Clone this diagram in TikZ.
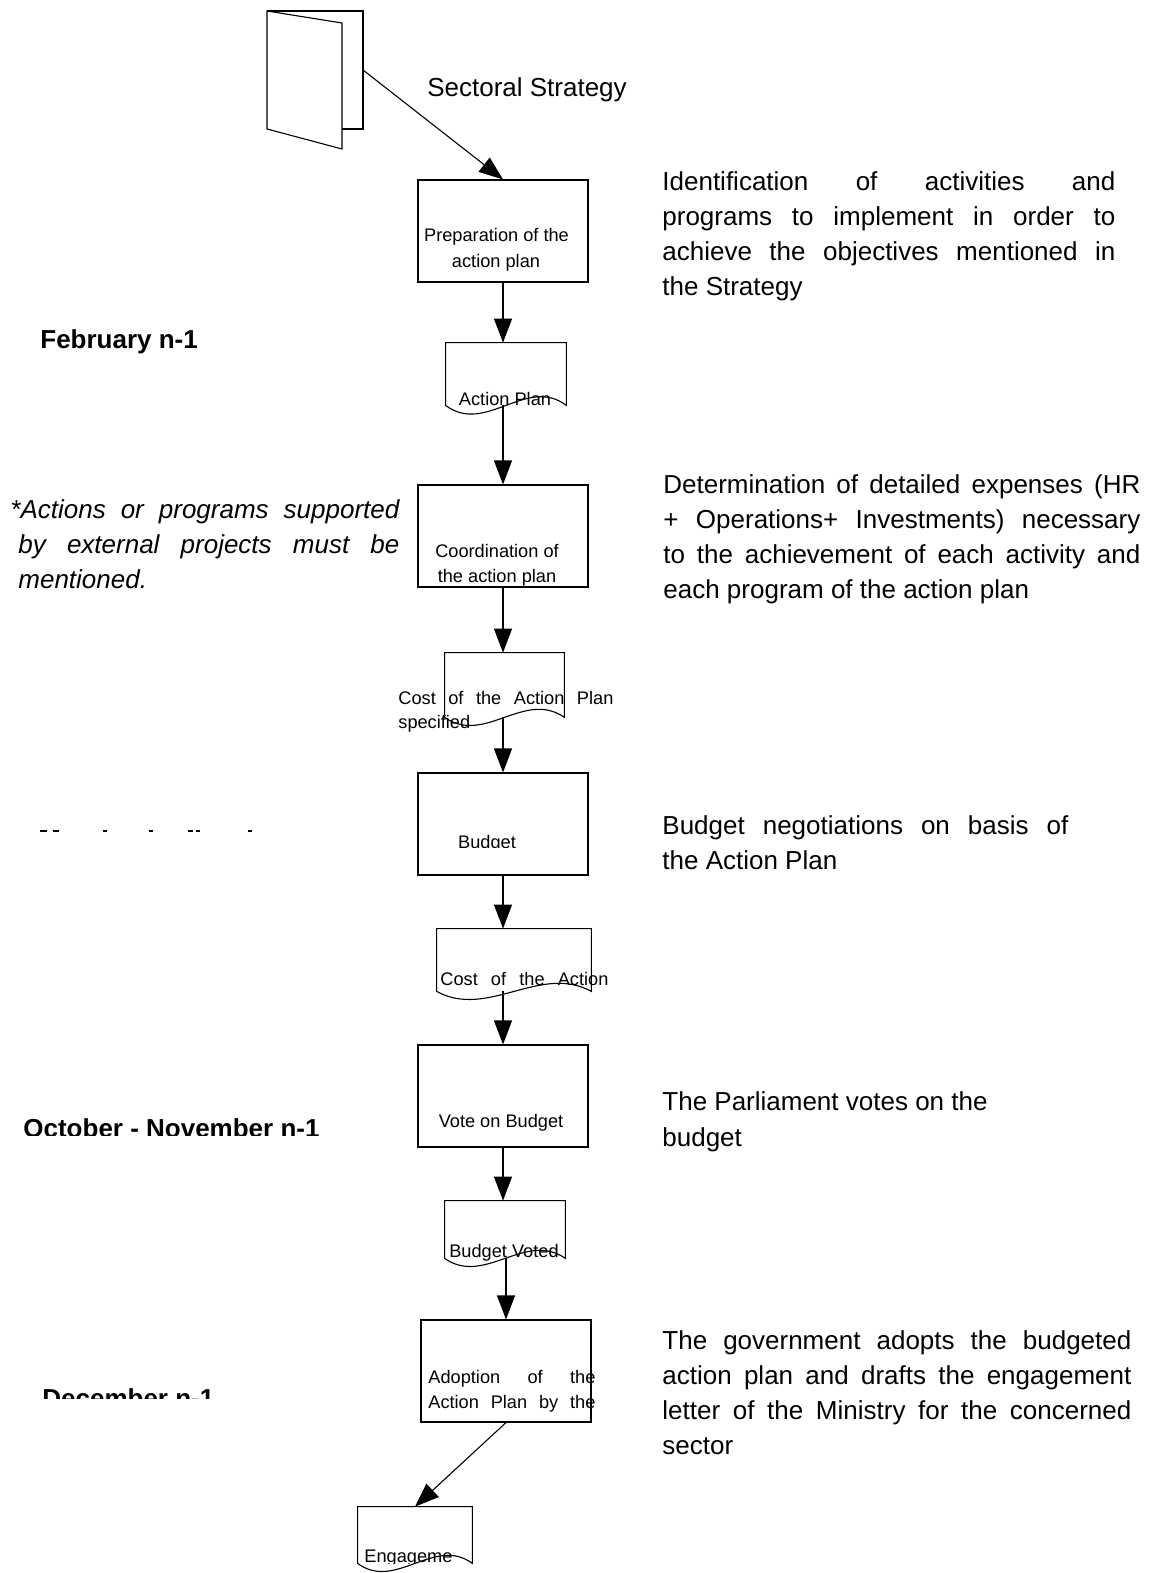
\documentclass[tikz,border=0pt]{standalone}
\usepackage{fontspec}
\setmainfont{Liberation Sans}
\usetikzlibrary{arrows.meta}
\newcommand\jl[2]{\makebox[#1][s]{#2}}
\newcommand\docwave[3]{\draw[ln] (#1.south west) -- (#1.north west) -- (#1.north east) -- (#1.south east) .. controls +(-#2,-#3) and +(#2,#3) .. (#1.south west) -- cycle;}
\begin{document}
\begin{tikzpicture}[x=0.5pt,y=-0.5pt,
  ln/.style={line width=0.55pt},
  arr/.style={ln, -{Triangle[length=12pt,width=9pt]}},
  box/.style={draw, ln, minimum width=85pt, minimum height=51pt, inner sep=0pt},
  docbox/.style={inner sep=0pt},
  tx/.style={font=\fontsize{13}{17.5}\selectfont, inner sep=0pt, anchor=base west},
  bx/.style={font=\fontsize{9.1}{12.5}\selectfont, inner sep=0pt},
  lab/.style={font=\fontsize{13}{17.5}\selectfont\bfseries, inner sep=0pt, anchor=base west},
  itx/.style={font=\fontsize{13}{17.5}\selectfont\itshape, inner sep=0pt, anchor=base west},
]
\useasboundingbox[fill=white] (0,0) rectangle (1152,1573);

% book icon
\draw[ln] (267,11) -- (342,23) -- (342,149) -- (267,129) -- cycle;
\draw[ln] (267,11) -- (363,11) -- (363,129) -- (342,129);
\coordinate (bk) at (363,70);
\node[tx, anchor=base] (ss) at (527,97) {Sectoral Strategy};

% process boxes
\node[box] (b1) at (503,231) {};
\node[box] (b2) at (503,536) {};
\node[box] (b3) at (503,824) {};
\node[box] (b4) at (503,1096) {};
\node[box] (b5) at (506,1371) {};

% documents
\node[docbox, minimum width=60pt, minimum height=31pt] (d1) at (506,374) {};
\node[docbox, minimum width=59.5pt, minimum height=32pt] (d2) at (504.5,685) {};
\node[docbox, minimum width=77pt, minimum height=31pt] (d3) at (514,960) {};
\node[docbox, minimum width=60pt, minimum height=28.5pt] (d4) at (505,1229.5) {};
\node[docbox, minimum width=57pt, minimum height=28pt] (d5) at (415,1535) {};
\docwave{d1}{40}{30}
\docwave{d2}{40}{28}
\docwave{d3}{51}{28}
\docwave{d4}{40}{28}
\docwave{d5}{38}{28}

% connectors
\draw[arr] (bk) -- (b1.north);
\draw[arr] (b1.south) -- (b1.south |- d1.north);
\draw[arr] (b2.north |- d1.south) -- (b2.north);
\draw[arr] (b2.south) -- (b2.south |- d2.north);
\draw[arr] (b3.north |- d2.south) -- (b3.north);
\draw[arr] (b3.south) -- (b3.south |- d3.north);
\draw[arr] (b4.north |- d3.south) -- (b4.north);
\draw[arr] (b4.south) -- (b4.south |- d4.north);
\draw[arr] (b5.north |- d4.south) -- (b5.north);
\draw[arr] (b5.south) -- (d5.north);

% box texts
\node[bx, anchor=base] (t1a) at (496.5,242) {Preparation of the};
\node[bx, anchor=base] (t1b) at (496,267) {action plan};
\node[bx, anchor=base] (t2a) at (497,557) {Coordination of};
\node[bx, anchor=base] (t2b) at (497,582) {the action plan};
\begin{scope}
\clip (418,800) rectangle (588,847.5);
\node[bx, anchor=base] (t3) at (487,848) {Budget};
\end{scope}
\node[bx, anchor=base] (t4) at (501,1127) {Vote on Budget};
\node[bx, anchor=base west] (t5a) at (428,1383) {\jl{83.5pt}{Adoption of the}};
\node[bx, anchor=base west] (t5b) at (428,1408) {\jl{83.5pt}{Action Plan by the}};

% document texts
\node[bx, anchor=base] (u1) at (505,405) {Action Plan};
\node[bx, anchor=base west] (u2a) at (398,704) {\jl{107.5pt}{Cost of the Action Plan}};
\node[bx, anchor=base west] (u2b) at (398,728) {specified};
\node[bx, anchor=base west] (u3) at (440,985) {\jl{84pt}{Cost of the Action}};
\node[bx, anchor=base] (u4) at (504,1257) {Budget Voted};
\begin{scope}
\clip (358,1530) rectangle (472,1563.5);
\node[bx, anchor=base west] (u5) at (364,1562) {Engageme};
\end{scope}

% right descriptions
\node[tx] (r1) at (662,190.5) {\parbox[t]{226.5pt}{\jl{226.5pt}{Identification of activities and}\\
\jl{226.5pt}{programs to implement in order to}\\
\jl{226.5pt}{achieve the objectives mentioned in}\\
the Strategy}};
\node[tx] (r2) at (663,493.5) {\parbox[t]{238.5pt}{\jl{238.5pt}{Determination of detailed expenses (HR}\\
\jl{238.5pt}{+ Operations+ Investments) necessary}\\
\jl{238.5pt}{to the achievement of each activity and}\\
each program of the action plan}};
\node[tx] (r3) at (662,834.5) {\parbox[t]{203pt}{\jl{203pt}{Budget negotiations on basis of}\\
the Action Plan}};
\node[tx] (r4) at (662,1110.5) {\parbox[t]{203pt}{\setlength\baselineskip{18pt}The Parliament votes on the\\
budget}};
\node[tx] (r5) at (662,1349.5) {\parbox[t]{234.5pt}{\jl{234.5pt}{The government adopts the budgeted}\\
\jl{234.5pt}{action plan and drafts the engagement}\\
\jl{234.5pt}{letter of the Ministry for the concerned}\\
sector}};

% left labels
\node[lab] (l1) at (40,348) {February n-1};
\node[itx] (i1) at (10,518) {\jl{194.5pt}{*Actions or programs supported}};
\node[itx] (i2) at (18,553) {\jl{190.5pt}{by external projects must be}};
\node[itx] (i3) at (18,588) {mentioned.};
\draw[line width=0.6pt] (40,831) -- (46.7,831) (52.7,831) -- (59.3,831) (102.7,831) -- (106.7,831)
  (149,831) -- (153.3,831) (188.3,831) -- (193.3,831) (195.7,831) -- (200,831) (248,831) -- (251.7,831);
\begin{scope}
\clip (0,1100) rectangle (420,1135);
\node[lab] (l2) at (23,1137.7) {October - November n-1};
\end{scope}
\begin{scope}
\clip (0,1370) rectangle (420,1398);
\node[lab] (l3) at (42,1407.6) {December n-1};
\end{scope}
\end{tikzpicture}
\end{document}
